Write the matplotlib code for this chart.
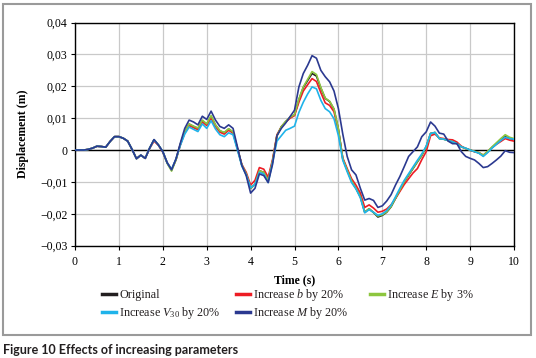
import numpy as np
import matplotlib
matplotlib.use("Agg")
import matplotlib.pyplot as plt
from matplotlib.patches import Rectangle
from matplotlib.lines import Line2D
from matplotlib.ticker import FuncFormatter, MultipleLocator

time_s = np.round(np.arange(0, 10.01, 0.1), 1)

original = [
    0, 0, 0, 0.0002, 0.0006, 0.0012, 0.0011, 0.0009, 0.0027, 0.0042,
    0.0042, 0.0037, 0.0028, 0.0002, -0.0027, -0.0016, -0.0026, 0.0006, 0.0032, 0.0016,
    -0.0005, -0.004, -0.0062, -0.003, 0.0018, 0.0058, 0.0081, 0.0074, 0.0068, 0.0092,
    0.0081, 0.0105, 0.0078, 0.006, 0.0054, 0.0066, 0.0056, 0.0005, -0.0047, -0.0075,
    -0.012, -0.0108, -0.0065, -0.007, -0.0095, -0.0035, 0.0045, 0.0073, 0.0089, 0.0102,
    0.011, 0.0158, 0.0196, 0.0218, 0.024, 0.0232, 0.0194, 0.0162, 0.0152, 0.0128,
    0.0065, -0.0028, -0.0063, -0.0097, -0.012, -0.0146, -0.0195, -0.0184, -0.0196, -0.021,
    -0.0205, -0.0195, -0.0178, -0.0152, -0.0126, -0.01, -0.0079, -0.0058, -0.0037, -0.0017,
    0.001, 0.0052, 0.0055, 0.0036, 0.0034, 0.003, 0.0026, 0.002, 0.001, 0.0005,
    0, -0.0005, -0.0009, -0.0018, -0.0006, 0.0008, 0.002, 0.003, 0.0042, 0.0036,
    0.0034]

inc_b = [
    0, 0, 0, 0.0002, 0.0006, 0.0012, 0.0011, 0.0009, 0.0027, 0.0042,
    0.0042, 0.0037, 0.0028, 0.0002, -0.0027, -0.0016, -0.0026, 0.0005, 0.0028, 0.0015,
    -0.0007, -0.004, -0.0062, -0.003, 0.0016, 0.0054, 0.0077, 0.007, 0.0064, 0.0088,
    0.0077, 0.0100, 0.0074, 0.0056, 0.005, 0.0062, 0.0053, 0.0004, -0.0045, -0.007,
    -0.011, -0.0095, -0.0055, -0.006, -0.0085, -0.003, 0.0048, 0.0072, 0.0088, 0.01,
    0.0108, 0.015, 0.0185, 0.0205, 0.0224, 0.0215, 0.018, 0.0148, 0.014, 0.012,
    0.006, -0.0025, -0.0058, -0.009, -0.011, -0.0135, -0.018, -0.0172, -0.0182, -0.0195,
    -0.0192, -0.0185, -0.0172, -0.0152, -0.013, -0.0108, -0.009, -0.0072, -0.0058, -0.003,
    -0.0005, 0.0045, 0.005, 0.0038, 0.0036, 0.0033, 0.0032, 0.0025, 0.0012, 0.0005,
    0, -0.0005, -0.0008, -0.0016, -0.0005, 0.0008, 0.0018, 0.0027, 0.0036, 0.0031,
    0.0028]

inc_E = [
    0, 0, 0, 0.0002, 0.0006, 0.0012, 0.0011, 0.0009, 0.0027, 0.0042,
    0.0042, 0.0037, 0.0028, 0.0002, -0.0027, -0.0016, -0.0026, 0.0006, 0.0032, 0.0016,
    -0.0005, -0.0042, -0.0066, -0.0031, 0.0018, 0.0058, 0.0082, 0.0075, 0.0069, 0.0094,
    0.0082, 0.0108, 0.0079, 0.0061, 0.0055, 0.0067, 0.0057, 0.0005, -0.0047, -0.0075,
    -0.012, -0.0108, -0.0065, -0.007, -0.0095, -0.0035, 0.0045, 0.0073, 0.009, 0.0103,
    0.0111, 0.016, 0.0198, 0.0222, 0.0246, 0.0237, 0.0196, 0.0163, 0.0153, 0.0129,
    0.0066, -0.0028, -0.0063, -0.0097, -0.012, -0.0146, -0.0195, -0.0184, -0.0196, -0.0207,
    -0.0203, -0.0194, -0.0177, -0.0151, -0.0125, -0.0099, -0.0078, -0.0057, -0.0036, -0.0016,
    0.001, 0.0052, 0.0055, 0.0036, 0.0034, 0.003, 0.0026, 0.002, 0.001, 0.0005,
    0, -0.0004, -0.0008, -0.0016, -0.0004, 0.001, 0.0023, 0.0036, 0.0048, 0.004,
    0.0036]

inc_V30 = [
    0, 0, 0, 0.0002, 0.0006, 0.0012, 0.0011, 0.0009, 0.0027, 0.0042,
    0.0042, 0.0037, 0.0028, 0.0002, -0.0027, -0.0016, -0.0026, 0.0006, 0.0032, 0.0016,
    -0.0005, -0.004, -0.006, -0.0028, 0.0015, 0.005, 0.0072, 0.0065, 0.0058, 0.0082,
    0.0068, 0.0092, 0.0066, 0.0048, 0.0042, 0.0054, 0.0048, 0.0, -0.005, -0.0078,
    -0.0118, -0.0108, -0.007, -0.0075, -0.0102, -0.004, 0.0028, 0.0045, 0.0062, 0.0068,
    0.0075, 0.0118, 0.015, 0.0176, 0.0198, 0.0192, 0.0156, 0.013, 0.012, 0.0098,
    0.0045, -0.0032, -0.0068, -0.0102, -0.0122, -0.015, -0.0197, -0.0187, -0.0195, -0.0205,
    -0.02, -0.019, -0.0173, -0.0147, -0.012, -0.0095, -0.0074, -0.0053, -0.0032, -0.0012,
    0.0012, 0.0052, 0.0055, 0.0036, 0.0034, 0.003, 0.0026, 0.002, 0.001, 0.0006,
    0, -0.0005, -0.001, -0.002, -0.0008, 0.0006, 0.0018, 0.003, 0.004, 0.0036,
    0.0034]

inc_M = [
    0, 0, 0, 0.0002, 0.0006, 0.0012, 0.0011, 0.0009, 0.0027, 0.0042,
    0.0042, 0.0037, 0.0028, 0.0002, -0.0027, -0.0016, -0.0026, 0.0006, 0.0033, 0.0016,
    -0.0005, -0.004, -0.0062, -0.0028, 0.0022, 0.0068, 0.0094, 0.0088, 0.0079, 0.0106,
    0.0096, 0.0122, 0.0094, 0.0074, 0.0068, 0.0079, 0.0068, 0.001, -0.0048, -0.008,
    -0.0135, -0.012, -0.0075, -0.008, -0.0102, -0.0045, 0.0045, 0.0068, 0.0085, 0.0105,
    0.0125, 0.0198, 0.024, 0.0266, 0.0296, 0.0288, 0.025, 0.023, 0.0214, 0.0185,
    0.013, 0.005, -0.002, -0.0062, -0.0078, -0.012, -0.0157, -0.0152, -0.0158, -0.018,
    -0.0175, -0.016, -0.014, -0.011, -0.0083, -0.0052, -0.002, -0.0005, 0.001, 0.0042,
    0.0057, 0.0088, 0.0075, 0.0053, 0.005, 0.0028, 0.002, 0.002, -0.0005, -0.002,
    -0.0026, -0.0031, -0.0042, -0.0055, -0.0052, -0.0042, -0.0031, -0.0019, -0.0002, -0.0007,
    -0.0008]

label_orig = "Original"
label_V = r"Increase $V_{30}$ by 20%"
label_b = r"Increase $b$ by 20%"
label_M = r"Increase $M$ by 20%"
label_E = r"Increase $E$ by 3%"

plt.rcParams['font.family'] = ['Liberation Serif', 'DejaVu Serif']
plt.rcParams['mathtext.fontset'] = 'custom'
plt.rcParams['mathtext.rm'] = 'Liberation Serif'
plt.rcParams['mathtext.it'] = 'Liberation Serif:italic'
plt.rcParams['mathtext.bf'] = 'Liberation Serif:bold'

W, H = 536, 358
fig = plt.figure(figsize=(W / 100, H / 100), dpi=100)
ax = fig.add_axes([75 / W, 1 - 245.7 / H, 439 / W, (245.7 - 22.5) / H])

c_orig = '#231f20'
c_b = '#ed1c24'
c_E = '#8dc63f'
c_V = '#1fb3ea'
c_M = '#2b3990'
lw = 1.2

ax.plot(time_s, original, color=c_orig, lw=lw, zorder=3)
ax.plot(time_s, inc_b, color=c_b, lw=lw, zorder=4)
ax.plot(time_s, inc_E, color=c_E, lw=lw, zorder=5)
ax.plot(time_s, inc_V30, color=c_V, lw=lw, zorder=6)
ax.plot(time_s, inc_M, color=c_M, lw=lw, zorder=7)

ax.axhline(0, color='black', lw=1.0, zorder=2)

ax.set_xlim(0, 10)
ax.set_ylim(-0.03, 0.04)
ax.xaxis.set_major_locator(MultipleLocator(1))
ax.yaxis.set_major_locator(MultipleLocator(0.01))

def yfmt(v, pos):
    if abs(v) < 1e-9:
        return '0'
    s = f'{v:.2f}'.replace('.', ',')
    return s.replace('-', '\u2212')

ax.yaxis.set_major_formatter(FuncFormatter(yfmt))
ax.grid(True, color='#c9c9c9', lw=0.9, zorder=0)
ax.set_axisbelow(True)
for s in ax.spines.values():
    s.set_color('black')
    s.set_linewidth(1.0)
ax.tick_params(axis='both', direction='out', length=3, width=0.8, labelsize=8.5, colors='black')
ax.tick_params(axis='x', pad=4.5)
ax.tick_params(axis='y', pad=2.5)

ax.set_xlabel('Time (s)', fontsize=8.5, fontweight='bold', labelpad=4.5)
ax.set_ylabel('Displacement (m)', fontsize=8.5, fontweight='bold', labelpad=8)

# Legend drawn manually in figure pixel positions (3 columns x 2 rows)
legend_entries = [
    (102, 294, c_orig, label_orig),
    (236, 294, c_b, label_b),
    (370, 294, c_E, label_E),
    (102, 312, c_V, label_V),
    (236, 312, c_M, label_M),
]
for x_px, y_px, col, lab in legend_entries:
    yf = 1 - y_px / H
    fig.add_artist(Line2D([x_px / W, (x_px + 13.5) / W], [yf, yf], color=col, lw=2.5,
                          transform=fig.transFigure))
    fig.text((x_px + 17) / W, 1 - (y_px + 3.6) / H, lab, fontsize=8.7,
             va='baseline', ha='left', color='#231f20')

fig.patches.append(Rectangle((3 / W, 1 - 335 / H), 528 / W, 331 / H,
                             transform=fig.transFigure, fill=False,
                             ec='#9a9a9a', lw=1.5))

fig.text(3 / W, 1 - 350 / H, 'Figure 10 Effects of increasing parameters',
         family='Lato', fontweight='bold', fontsize=9, va='center', ha='left',
         color='#231f20')

fig.savefig('out.png', dpi=100)
